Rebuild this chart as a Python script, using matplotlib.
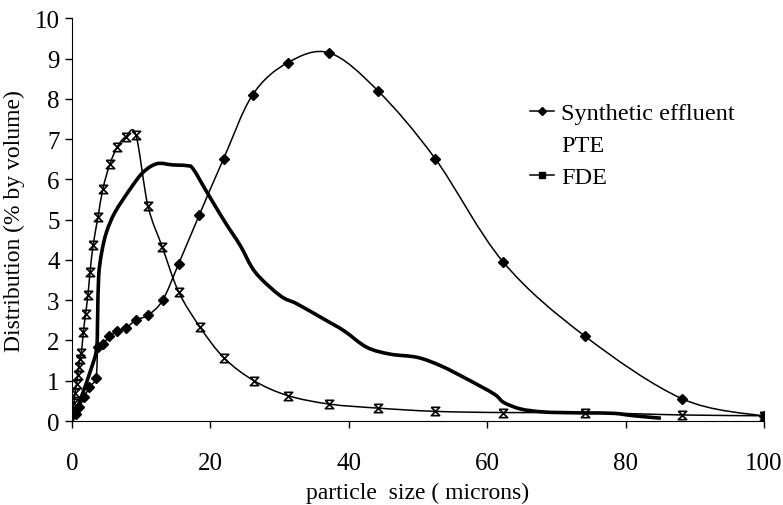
import numpy as np
import matplotlib
matplotlib.use('Agg')
import matplotlib.pyplot as plt
from matplotlib.path import Path
from matplotlib.patches import PathPatch
from matplotlib.lines import Line2D

# values
synthetic_x = [0.0, 0.58, 1.06, 1.78, 2.5, 3.47, 3.75, 4.5, 5.4, 6.55, 7.8, 9.25, 11.0,
               13.1, 15.4, 18.4, 21.9, 26.1, 31.2, 37.2, 44.2, 52.5, 62.3, 74.1, 88.2, 100.0]
synthetic_y = [0.0, 0.17, 0.34, 0.59, 0.84, 1.08, 1.83, 1.91, 2.10, 2.23, 2.31, 2.51, 2.63,
               3.0, 3.9, 5.12, 6.51, 8.10, 8.90, 9.14, 8.20, 6.51, 3.95, 2.11, 0.55, 0.12]

pte_x = [0.0, 1.06, 2.75, 3.55, 3.7, 3.85, 4.3, 5.0, 6.2, 8.4, 10.3, 12.3, 14.5, 16.6, 17.5,
         19.5, 22.1, 24.3, 26.5, 30.1, 32.5, 36.4, 39.3, 42.6, 46.0, 49.9, 53.3, 57.1,
         61.0, 62.4, 64.8, 67.7, 70.6, 74.5, 78.3, 81.2, 85.1]
pte_y = [0.0, 0.46, 1.29, 1.8, 2.6, 3.6, 4.2, 4.7, 5.18, 5.76, 6.18, 6.39, 6.36, 6.34, 6.26,
         5.68, 4.94, 4.36, 3.69, 3.11, 2.91, 2.53, 2.24, 1.83, 1.66, 1.58, 1.37, 1.04,
         0.67, 0.46, 0.30, 0.23, 0.21, 0.2, 0.19, 0.13, 0.07]

fde_x = [0.0, 0.15, 0.3, 0.45, 0.65, 0.82, 0.97, 1.12, 1.35, 1.64, 1.95, 2.3, 2.6, 3.05,
         3.75, 4.45, 5.45, 6.55, 7.77, 9.22, 10.96, 13.07, 15.4, 18.5, 22.0, 26.3, 31.2,
         37.2, 44.2, 52.4, 62.3, 74.1, 88.2, 100.0]
fde_y = [0.0, 0.2, 0.45, 0.7, 0.92, 1.13, 1.33, 1.55, 1.7, 2.22, 2.65, 3.13, 3.69, 4.37,
         5.06, 5.76, 6.37, 6.81, 7.06, 7.11, 5.35, 4.31, 3.21, 2.33, 1.56, 1.0, 0.63,
         0.42, 0.32, 0.24, 0.21, 0.21, 0.15, 0.13]

x_ticks = [0, 20, 40, 60, 80, 100]
y_ticks = list(range(0, 11))

plt.rcParams['font.family'] = ['Liberation Serif', 'DejaVu Serif']


def smooth_path(xs, ys):
    # Excel-like smoothed line: Catmull-Rom curves drawn as cubic Beziers
    pts = np.column_stack([xs, ys]).astype(float)
    n = len(pts)
    verts = [pts[0]]
    codes = [Path.MOVETO]
    for i in range(n - 1):
        p0 = pts[i - 1] if i > 0 else pts[i]
        p1 = pts[i]
        p2 = pts[i + 1]
        p3 = pts[i + 2] if i + 2 < n else pts[i + 1]
        verts += [p1 + (p2 - p0) / 6, p2 - (p3 - p1) / 6, p2]
        codes += [Path.CURVE4] * 3
    return Path(verts, codes)


# hourglass marker (scanned Excel star marker)
hourglass = Path([(-1, 1), (1, 1), (-1, -1), (1, -1), (-1, 1)],
                 [Path.MOVETO, Path.LINETO, Path.LINETO, Path.LINETO, Path.LINETO])

fig = plt.figure(figsize=(7.83, 5.06), dpi=100)
ax = fig.add_axes([0.092, 0.166, 0.8837, 0.7959])

ax.add_patch(PathPatch(smooth_path(synthetic_x, synthetic_y), fill=False,
                       edgecolor='black', linewidth=1.1, transform=ax.transData))
ax.add_patch(PathPatch(smooth_path(pte_x, pte_y), fill=False,
                       edgecolor='black', linewidth=2.6, transform=ax.transData))
ax.add_patch(PathPatch(smooth_path(fde_x, fde_y), fill=False,
                       edgecolor='black', linewidth=1.1, transform=ax.transData))

ax.plot(synthetic_x[1:], synthetic_y[1:], linestyle='none', marker='D',
        markersize=4.8, color='black')
ax.plot(fde_x[1:], fde_y[1:], linestyle='none', marker=hourglass,
        markersize=6, markerfacecolor='none', markeredgecolor='black',
        markeredgewidth=1.2)

ax.set_xlim(0, 100)
ax.set_ylim(0, 10)
ax.set_xticks(x_ticks)
ax.set_yticks(y_ticks)
ax.tick_params(direction='out', length=5, width=1, labelsize=18)
ax.tick_params(axis='x', pad=17)
ax.tick_params(axis='y', pad=4)
ax.spines['top'].set_visible(False)
ax.spines['right'].set_visible(False)
ax.set_xlabel('particle  size ( microns)', fontsize=17, labelpad=6)
ax.set_ylabel('Distribution (% by volume)', fontsize=17, labelpad=7)

handles = [
    Line2D([], [], color='black', linewidth=1.1, marker='D', markersize=4.5),
    Line2D([], [], color='none'),
    Line2D([], [], color='black', linewidth=1.1, marker='s', markersize=4),
]
ax.legend(handles, ['Synthetic effluent', 'PTE', 'FDE'], loc='upper left',
          bbox_to_anchor=(530 / 783, 1 - 103 / 506), bbox_transform=fig.transFigure,
          frameon=False, fontsize=17.5, handlelength=1.0, handletextpad=0.28,
          labelspacing=0.42, borderpad=0, borderaxespad=0)

fig.savefig('out.png', dpi=100)
